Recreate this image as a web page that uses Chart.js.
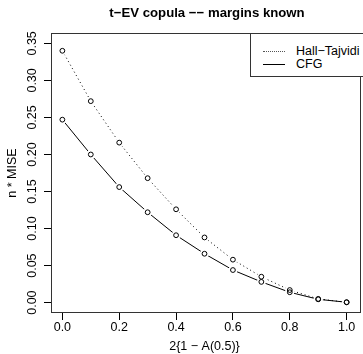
<!DOCTYPE html>
<html>
<head>
<meta charset="utf-8">
<script src="https://cdn.jsdelivr.net/npm/chart.js@4/dist/chart.umd.min.js"></script>
<style>
  body { margin: 0; background: #fff; }
  #wrap { position: relative; width: 363px; height: 354px; overflow: hidden; font-family: "Liberation Sans", Arial, Helvetica, sans-serif; }
  #title { position: absolute; left: 51px; width: 312px; top: 4px; line-height: 17px; text-align: center; font-weight: bold; font-size: 13.2px; color: #000; }
  #legend { position: absolute; left: 250px; top: 33px; width: 120px; height: 42px; border: 1px solid #333; background: #fff; }
  .item { position: absolute; left: 12px; height: 14px; font-size: 12.5px; line-height: 14px; color: #000; }
  .item span.sample { position: absolute; left: 0; top: 7px; width: 22px; height: 0; border-top: 1px solid #000; }
  .item span.sample.dot { border-top: 1px dotted #555; }
  .item span.lbl { position: absolute; left: 33px; top: 0; white-space: nowrap; }
</style>
</head>
<body>
<div id="wrap">
  <canvas id="chart" width="363" height="354"></canvas>
  <div id="title">t&minus;EV copula &minus;&minus; margins known</div>
  <div id="legend">
    <div class="item" style="top:10px"><span class="sample dot"></span><span class="lbl">Hall&minus;Tajvidi</span></div>
    <div class="item" style="top:23px"><span class="sample"></span><span class="lbl">CFG</span></div>
  </div>
</div>
<script>
// values
var xValues = [0, 0.1, 0.2, 0.3, 0.4, 0.5, 0.6, 0.7, 0.8, 0.9, 1.0];
var hallTajvidi = [0.340, 0.272, 0.216, 0.168, 0.126, 0.088, 0.058, 0.035, 0.017, 0.005, 0.0005];
var cfg = [0.247, 0.200, 0.156, 0.122, 0.091, 0.066, 0.044, 0.028, 0.014, 0.0045, 0.0005];
var xTicks = [0, 0.2, 0.4, 0.6, 0.8, 1.0];
var yTicks = [0, 0.05, 0.10, 0.15, 0.20, 0.25, 0.30, 0.35];

var fontFam = '"Liberation Sans", Arial, Helvetica, sans-serif';

function pts(ys) {
    return xValues.map(function(x, i){ return {x: x, y: ys[i]}; });
}

var boxPlugin = {
    id: 'box',
    afterDatasetsDraw: function(chart){
        var a = chart.chartArea, ctx = chart.ctx;
        ctx.save();
        ctx.strokeStyle = '#333';
        ctx.lineWidth = 1;
        ctx.strokeRect(Math.round(a.left) + 0.5, Math.round(a.top) + 0.5, Math.round(a.right - a.left) + 2, Math.round(a.bottom - a.top) - 1);
        ctx.restore();
    }
};

new Chart(document.getElementById("chart"), {
    type: 'line',
    data: {
        datasets: [
            { data: pts(hallTajvidi), borderColor: '#000', borderWidth: 1, borderDash: [1, 3], pointRadius: 0, fill: false, order: 5 },
            { data: pts(cfg), borderColor: '#000', borderWidth: 1, pointRadius: 0, fill: false, order: 5 },
            { data: pts(hallTajvidi), showLine: false, pointRadius: 4.5, pointBackgroundColor: '#fff', pointBorderWidth: 0, order: 3 },
            { data: pts(cfg), showLine: false, pointRadius: 4.5, pointBackgroundColor: '#fff', pointBorderWidth: 0, order: 3 },
            { data: pts(hallTajvidi), showLine: false, pointRadius: 2.4, pointBackgroundColor: 'rgba(0,0,0,0)', pointBorderColor: '#000', pointBorderWidth: 1, order: 1 },
            { data: pts(cfg), showLine: false, pointRadius: 2.4, pointBackgroundColor: 'rgba(0,0,0,0)', pointBorderColor: '#000', pointBorderWidth: 1, order: 1 }
        ]
    },
    options: {
        responsive: false,
        animation: false,
        events: [],
        layout: { padding: { top: 33, right: 0, left: 0, bottom: 0 } },
        plugins: { legend: { display: false }, tooltip: { enabled: false }, title: { display: false } },
        scales: {
            x: {
                type: 'linear',
                min: -0.04,
                max: 1.04,
                afterBuildTicks: function(s){ s.ticks = xTicks.map(function(v){ return {value: v}; }); },
                afterFit: function(s){ s.height = 41; },
                grid: { drawOnChartArea: false, drawTicks: true, tickLength: 7, color: '#000' },
                border: { display: false },
                ticks: {
                    color: '#000', padding: 0, maxRotation: 0,
                    font: { family: fontFam, size: 12.5 },
                    callback: function(v){ return v.toFixed(1); }
                },
                title: { display: true, text: '2{1 \u2212 A(0.5)}', color: '#000', font: { family: fontFam, size: 12.5 }, padding: { top: 0, bottom: 0 } }
            },
            y: {
                type: 'linear',
                min: -0.014,
                max: 0.364,
                afterBuildTicks: function(s){ s.ticks = yTicks.map(function(v){ return {value: v}; }); },
                afterFit: function(s){ s.width = 51; },
                grid: { drawOnChartArea: false, drawTicks: true, tickLength: 7, color: '#000' },
                border: { display: false },
                ticks: {
                    color: '#000', padding: -1, minRotation: 90, maxRotation: 90, crossAlign: 'center',
                    font: { family: fontFam, size: 12.5 },
                    callback: function(v){ return v.toFixed(2); }
                },
                title: { display: true, text: 'n * MISE', color: '#000', font: { family: fontFam, size: 12.5 }, padding: { top: 5.5, bottom: 0 } }
            }
        }
    },
    plugins: [boxPlugin]
});
</script>
</body>
</html>
